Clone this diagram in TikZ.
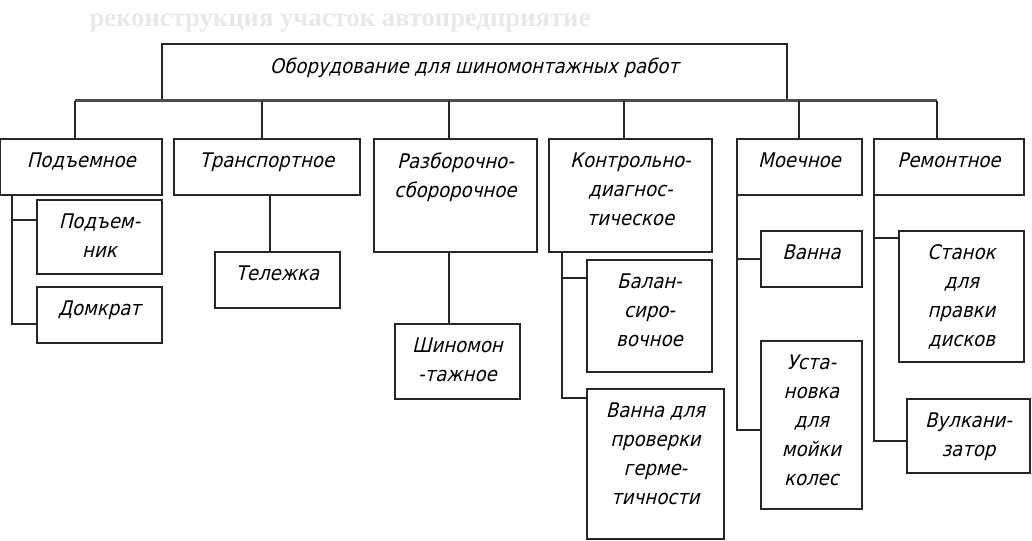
\documentclass[tikz,border=0pt]{standalone}
\usepackage{fontspec}
\usetikzlibrary{fit}
\newfontfamily\gost[FakeSlant=0.24]{DejaVu Sans Condensed}
\newfontfamily\titlefont{Liberation Serif}
\tikzset{
  box/.style={draw=black!85, line width=1.1pt, inner sep=0pt, rectangle},
  txt/.style={font=\gost\fontsize{15.1}{21.75}\selectfont, align=center, inner sep=0pt, anchor=north},
  wire/.style={draw=black!85, line width=1.1pt},
  buswire/.style={draw=black!70, line width=1.6pt}
}
\begin{document}
\begin{tikzpicture}[x=0.75pt,y=-0.75pt]
\useasboundingbox (0,0) rectangle (1032,540);
% faint title
\node[font=\titlefont\bfseries\fontsize{20}{24}\selectfont, text=black!9, anchor=base, inner sep=0pt] (title) at (340,26) {реконструкция участок автопредприятие};
% top box
\node[box, fit={(162,44) (787,100)}] (top) {};
\node[txt] (topt) at ([yshift=-10.5pt]top.north) {Оборудование для шиномонтажных работ};
% level 1
\node[box, fit={(0.6,139) (162,195)}] (p1) {};
\node[box, fit={(174,139) (360,195)}] (t1) {};
\node[box, fit={(374,139) (537,252)}] (r1) {};
\node[box, fit={(549,139) (712,252)}] (k1) {};
\node[box, fit={(737,139) (862,195)}] (m1) {};
\node[box, fit={(874,139) (1024,195)}] (e1) {};
\node[txt] (p1t) at ([yshift=-10.5pt]p1.north) {Подъемное};
\node[txt] (t1t) at ([yshift=-10.5pt]t1.north) {Транспортное};
\node[txt] (r1t) at ([yshift=-10.5pt]r1.north) {Разборочно-\\сборорочное};
\node[txt] (k1t) at ([yshift=-10.5pt]k1.north) {Контрольно-\\диагнос-\\тическое};
\node[txt] (m1t) at ([yshift=-10.5pt]m1.north) {Моечное};
\node[txt] (e1t) at ([yshift=-10.5pt]e1.north) {Ремонтное};
% level 2
\node[box, fit={(37,200) (162,274)}] (p2) {};
\node[box, fit={(37,287) (162,343)}] (p3) {};
\node[box, fit={(215,252) (340,308)}] (t2) {};
\node[box, fit={(395,324) (520,399)}] (r2) {};
\node[box, fit={(587,260) (712,372)}] (k2) {};
\node[box, fit={(587,389) (724,539)}] (k3) {};
\node[box, fit={(761,231) (862,287)}] (m2) {};
\node[box, fit={(761,341) (862,509)}] (m3) {};
\node[box, fit={(899,231) (1024,362)}] (e2) {};
\node[box, fit={(907,399) (1030,473)}] (e3) {};
\node[txt] (p2t) at ([yshift=-10.5pt]p2.north) {Подъем-\\ник};
\node[txt] (p3t) at ([yshift=-10.5pt]p3.north) {Домкрат};
\node[txt] (t2t) at ([yshift=-10.5pt]t2.north) {Тележка};
\node[txt] (r2t) at ([yshift=-10.5pt]r2.north) {Шиномон\\-тажное};
\node[txt] (k2t) at ([yshift=-10.5pt]k2.north) {Балан-\\сиро-\\вочное};
\node[txt] (k3t) at ([yshift=-10.5pt]k3.north) {Ванна для\\проверки\\герме-\\тичности};
\node[txt] (m2t) at ([yshift=-10.5pt]m2.north) {Ванна};
\node[txt] (m3t) at ([yshift=-10.5pt]m3.north) {Уста-\\новка\\для\\мойки\\колес};
\node[txt] (e2t) at ([yshift=-10.5pt]e2.north) {Станок\\для\\правки\\дисков};
\node[txt] (e3t) at ([yshift=-10.5pt]e3.north) {Вулкани-\\затор};
% bus and drops
\coordinate (d1) at (75,100.5);
\coordinate (d2) at (262,100.5);
\coordinate (d3) at (449,100.5);
\coordinate (d4) at (624,100.5);
\coordinate (d5) at (799,100.5);
\coordinate (d6) at (937,100.5);
\draw[buswire] (d1) -- (d6);
\draw[wire] (d1) -- (d1 |- p1.north);
\draw[wire] (d2) -- (d2 |- t1.north);
\draw[wire] (d3) -- (d3 |- r1.north);
\draw[wire] (d4) -- (d4 |- k1.north);
\draw[wire] (d5) -- (d5 |- m1.north);
\draw[wire] (d6) -- (d6 |- e1.north);
% Подъемное branch
\coordinate (pa) at (12,195);
\draw[wire] (pa) -- (pa |- 0,324) -- (p3.west |- 0,324);
\draw[wire] (pa |- 0,220) -- (p2.west |- 0,220);
% Транспортное
\coordinate (ta) at (270,195);
\draw[wire] (ta) -- (ta |- t2.north);
% Разборочно
\coordinate (ra) at (449,252);
\draw[wire] (ra) -- (ra |- r2.north);
% Контрольно
\coordinate (ka) at (562,252);
\draw[wire] (ka) -- (ka |- 0,398) -- (k3.west |- 0,398);
\draw[wire] (ka |- 0,278) -- (k2.west |- 0,278);
% Моечное
\coordinate (ma) at (737,195);
\draw[wire] (ma) -- (ma |- 0,430) -- (m3.west |- 0,430);
\draw[wire] (ma |- 0,259) -- (m2.west |- 0,259);
% Ремонтное
\coordinate (ea) at (874,195);
\draw[wire] (ea) -- (ea |- 0,441) -- (e3.west |- 0,441);
\draw[wire] (ea |- 0,238) -- (e2.west |- 0,238);
\end{tikzpicture}
\end{document}
